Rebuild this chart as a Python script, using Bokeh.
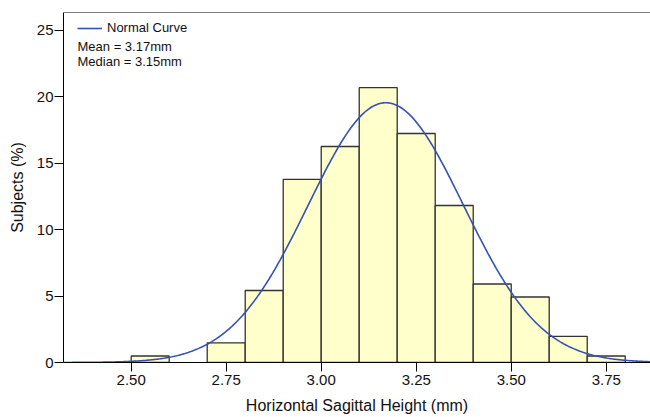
import numpy as np
from bokeh.plotting import figure
from bokeh.models import (Range1d, FixedTicker, NumeralTickFormatter, Legend,
                          LegendItem, Label, Span, ColumnDataSource)
from bokeh.embed import file_html
from bokeh.resources import INLINE

# Histogram of horizontal sagittal height, 0.1 mm bins (left edges, mm)
bin_left = [2.50, 2.60, 2.70, 2.80, 2.90, 3.00, 3.10, 3.20, 3.30, 3.40, 3.50, 3.60, 3.70]
percent = [0.49, 0.0, 1.48, 5.42, 13.79, 16.26, 20.69, 17.24, 11.82, 5.91, 4.93, 1.97, 0.49]
bin_width = 0.1

# Summary statistics used for the fitted normal curve
mean_mm = 3.17
median_mm = 3.15
sd_mm = 0.204

x_ticks = [2.50, 2.75, 3.00, 3.25, 3.50, 3.75]
y_ticks = [0, 5, 10, 15, 20, 25]

FONT = "Liberation Sans"
BLUE = "#3350b5"
INK = "#111111"

x_lo, x_hi = 2.3218, 3.8665
p = figure(width=650, height=417,
           x_range=Range1d(x_lo, x_hi), y_range=Range1d(0, 26.35),
           output_backend="svg", toolbar_location=None,
           min_border_left=63, min_border_right=0,
           min_border_top=12, min_border_bottom=55)

# bars (empty bins skipped)
bars = ColumnDataSource(dict(
    left=[b for b, v in zip(bin_left, percent) if v > 0],
    right=[b + bin_width for b, v in zip(bin_left, percent) if v > 0],
    top=[v for v in percent if v > 0],
))
p.quad(left="left", right="right", bottom=0, top="top", source=bars,
       fill_color="#ffffcc", line_color="#333333", line_width=1.3)

# normal curve scaled to percent per bin
xs = np.linspace(x_lo, x_hi, 500)
ys = 100 * bin_width * np.exp(-0.5 * ((xs - mean_mm) / sd_mm) ** 2) / (sd_mm * np.sqrt(2 * np.pi))
curve = p.line(xs, ys, line_color=BLUE, line_width=1.6)

# frame: left/bottom axes plus a top rule, no right edge
p.outline_line_color = None
p.add_layout(Span(location=26.35, dimension="width", line_color="black", line_width=1))
p.grid.visible = False

for ax in (p.xaxis[0], p.yaxis[0]):
    ax.axis_line_color = "black"
    ax.axis_line_width = 1
    ax.major_tick_line_color = "black"
    ax.major_tick_in = 0
    ax.major_tick_out = 9
    ax.minor_tick_line_color = None
    ax.major_label_text_font = FONT
    ax.major_label_text_font_size = "15px"
    ax.major_label_text_color = INK
    ax.axis_label_text_font = FONT
    ax.axis_label_text_font_size = "16px"
    ax.axis_label_text_font_style = "normal"
    ax.axis_label_text_color = INK

p.xaxis[0].ticker = FixedTicker(ticks=x_ticks)
p.xaxis[0].formatter = NumeralTickFormatter(format="0.00")
p.xaxis[0].major_label_standoff = 3
p.xaxis[0].axis_label = "Horizontal Sagittal Height (mm)"
p.xaxis[0].axis_label_standoff = 9

p.yaxis[0].ticker = FixedTicker(ticks=y_ticks)
p.yaxis[0].major_label_standoff = 1
p.yaxis[0].axis_label = "Subjects (%)"
p.yaxis[0].axis_label_standoff = 8

legend = Legend(items=[LegendItem(label="Normal Curve", renderers=[curve])],
                location=(14, 327), margin=0, padding=0,
                glyph_width=25, glyph_height=14, label_height=14,
                label_standoff=5, border_line_color=None,
                background_fill_alpha=0,
                label_text_font=FONT, label_text_font_size="13px",
                label_text_color=INK)
p.add_layout(legend)

for txt, yy in ((f"Mean = {mean_mm:.2f}mm", 316), (f"Median = {median_mm:.2f}mm", 301.5)):
    p.add_layout(Label(x=14, y=yy, x_units="screen", y_units="screen", text=txt,
                       text_font=FONT, text_font_size="13px", text_color=INK,
                       text_baseline="middle"))

open("out.html", "w").write(file_html(p, INLINE))
